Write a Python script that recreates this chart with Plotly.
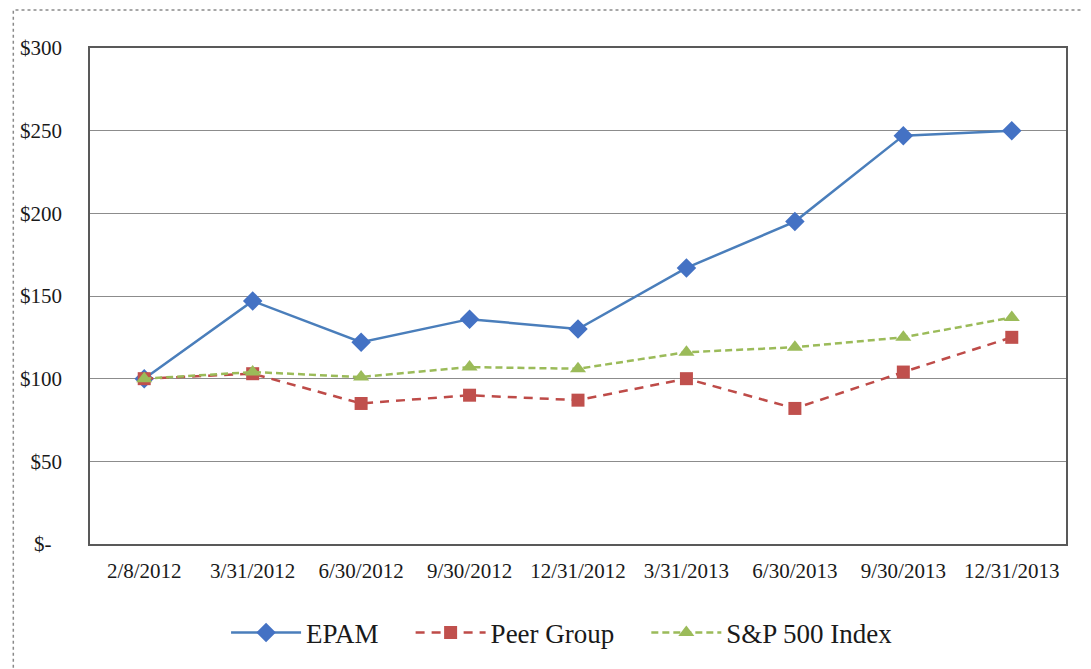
import plotly.graph_objects as go

categories = ["2/8/2012", "3/31/2012", "6/30/2012", "9/30/2012", "12/31/2012",
              "3/31/2013", "6/30/2013", "9/30/2013", "12/31/2013"]
epam = [100, 147, 122, 136, 130, 167, 195, 247, 250]
peer_group = [100, 103, 85, 90, 87, 100, 82, 104, 125]
sp500 = [100, 104, 101, 107, 106, 116, 119, 125, 137]
series_names = ["EPAM", "Peer Group", "S&P 500 Index"]
y_tick_vals = [0, 50, 100, 150, 200, 250, 300]
y_tick_text = ["$-\u00a0\u00a0", "$50", "$100", "$150", "$200", "$250", "$300"]

PAD = "\u00a0" * 4
SERIF = "Liberation Serif, Times New Roman, serif"

fig = go.Figure()
fig.add_trace(go.Scatter(
    x=categories, y=epam, name=series_names[0] + PAD, mode="lines+markers",
    line=dict(color="#4A7EBB", width=2.5),
    marker=dict(symbol="diamond", size=15, color="#4472C4"),
))
fig.add_trace(go.Scatter(
    x=categories, y=peer_group, name=series_names[1] + PAD, mode="lines+markers",
    line=dict(color="#BE4B48", width=2.5, dash="9px,7px"),
    marker=dict(symbol="square", size=13, color="#C0504D"),
))
fig.add_trace(go.Scatter(
    x=categories, y=sp500, name=series_names[2], mode="lines+markers",
    line=dict(color="#9BBB59", width=2.5, dash="7px,4px"),
    marker=dict(symbol="triangle-up", size=14, color="#9BBB59"),
))

# page body has an 8px offset; figure sized to fit the 1091x669 window
OFF = 8
W, H = 1091 - OFF, 669 - OFF
L, T = 86 - OFF, 48 - OFF
R = W - (1066 - OFF)
B = H - (544 - OFF)
pw, ph = W - L - R, H - T - B

def px_x(p):
    return (p - OFF - L) / pw

def px_y(p):
    return (H - B - (p - OFF)) / ph

fig.add_shape(type="rect", xref="paper", yref="paper",
              x0=px_x(9), x1=px_x(1089), y0=px_y(720), y1=px_y(10),
              line=dict(color="#8A8A8A", width=1.5, dash="dot"), layer="below")

fig.update_layout(
    width=W, height=H,
    margin=dict(l=L, r=R, t=T, b=B),
    paper_bgcolor="white", plot_bgcolor="white",
    font=dict(family=SERIF, color="#1a1a1a"),
    showlegend=True,
    legend=dict(orientation="h", x=px_x(560), xanchor="center", y=px_y(633), yanchor="middle",
                font=dict(size=27, family=SERIF, color="#1a1a1a"), itemwidth=70, tracegroupgap=0),
)
fig.update_xaxes(
    type="category", range=[-0.5, 8.5],
    showline=True, linecolor="#595959", linewidth=1.5, mirror=True,
    showgrid=False, ticks="", tickfont=dict(size=21, family=SERIF), ticklabelstandoff=7,
)
fig.update_yaxes(
    range=[0, 300], tickvals=y_tick_vals, ticktext=y_tick_text,
    showline=True, linecolor="#595959", linewidth=1.5, mirror=True,
    showgrid=True, gridcolor="#8C8C8C", gridwidth=1, zeroline=False,
    ticks="", tickfont=dict(size=21, family=SERIF), ticklabelstandoff=22,
)

fig.write_html("out.html")
